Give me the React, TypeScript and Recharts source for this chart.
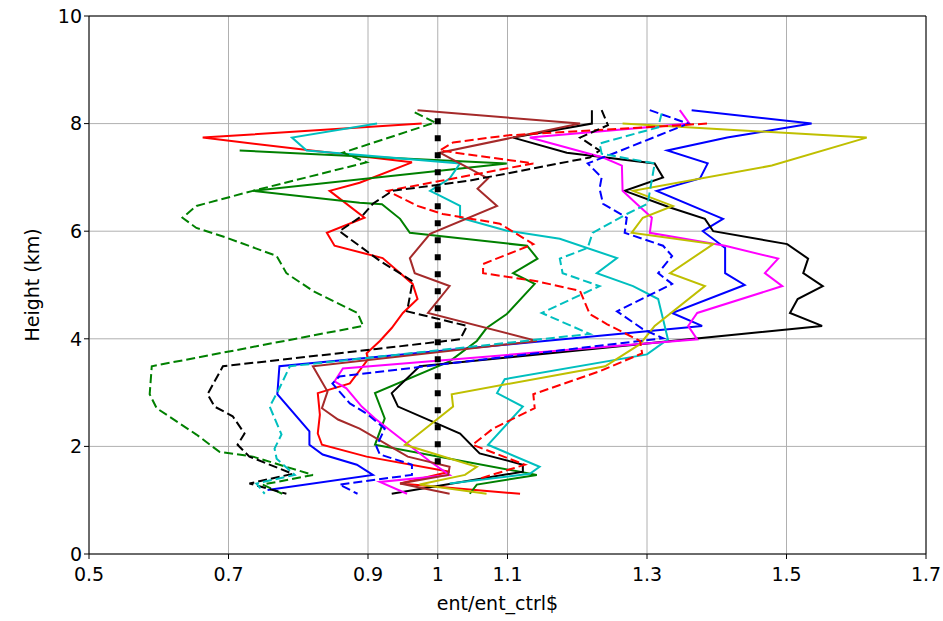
import React from "react";
import {
  ScatterChart,
  Scatter,
  XAxis,
  YAxis,
  CartesianGrid,
  ReferenceLine,
} from "recharts";

// each profile: [ent/ent_ctrl, height km], top to bottom
const blueSolid: [number, number][] = [
  [1.364, 8.25], [1.536, 8.0], [1.415, 7.74], [1.329, 7.5], [1.387, 7.26], [1.376, 6.98],
  [1.314, 6.75], [1.409, 6.23], [1.38, 6.0], [1.412, 5.69], [1.412, 5.22], [1.44, 5.0],
  [1.336, 4.48], [1.379, 4.24], [0.773, 3.49], [0.77, 2.97], [0.816, 2.28], [0.816, 2.03],
  [0.835, 1.85], [0.884, 1.66], [0.907, 1.47], [0.756, 1.19],
];
const blueDashed: [number, number][] = [
  [1.304, 8.25], [1.359, 8.0], [1.251, 7.44], [1.215, 7.26], [1.235, 7.0], [1.232, 6.79],
  [1.237, 6.51], [1.271, 6.25], [1.268, 5.97], [1.323, 5.73], [1.336, 5.54], [1.316, 5.22],
  [1.336, 5.02], [1.257, 4.51], [1.294, 4.18], [1.323, 4.01], [0.859, 3.3], [0.849, 3.17],
  [0.874, 2.8], [0.898, 2.61], [0.924, 2.33], [0.912, 2.0], [0.917, 1.85], [0.963, 1.66],
  [0.963, 1.47], [0.859, 1.29], [0.885, 1.12],
];
const redSolid: [number, number][] = [
  [0.977, 8.0], [0.663, 7.74], [0.963, 7.28], [0.888, 6.9], [0.845, 6.75], [0.895, 6.25],
  [0.841, 5.97], [0.852, 5.73], [0.921, 5.5], [0.964, 5.02], [0.971, 4.74], [0.95, 4.48],
  [0.934, 4.2], [0.917, 3.96], [0.898, 3.73], [0.9, 3.62], [0.874, 3.17], [0.828, 2.99],
  [0.831, 2.59], [0.828, 2.24], [0.834, 2.03], [0.898, 1.81], [1.017, 1.53], [0.946, 1.31],
  [1.118, 1.12],
];
const redDashed: [number, number][] = [
  [1.386, 8.0], [1.099, 7.78], [1.022, 7.65], [1.003, 7.5], [1.137, 7.26], [0.928, 6.75],
  [0.971, 6.47], [1.007, 6.32], [1.089, 6.14], [1.137, 5.76], [1.065, 5.39], [1.065, 5.22],
  [1.142, 5.07], [1.204, 4.89], [1.218, 4.46], [1.243, 4.27], [1.29, 3.96], [1.293, 3.73],
  [1.233, 3.4], [1.137, 2.97], [1.139, 2.71], [1.079, 2.33], [1.05, 2.03], [1.125, 1.66],
  [1.06, 1.4],
];
const greenSolid: [number, number][] = [
  [0.716, 7.5], [1.099, 7.26], [0.735, 6.75], [0.888, 6.53], [0.92, 6.5], [0.946, 6.23],
  [0.96, 5.97], [1.128, 5.73], [1.143, 5.49], [1.108, 5.22], [1.139, 5.02], [1.099, 4.46],
  [1.07, 4.2], [1.056, 3.96], [1.017, 3.58], [0.91, 2.99], [0.924, 2.52], [0.91, 2.03],
  [1.142, 1.47], [1.056, 1.29], [1.046, 1.12],
];
const greenDashed: [number, number][] = [
  [0.967, 8.21], [0.996, 8.02], [0.864, 7.46], [0.898, 7.28], [0.735, 6.75], [0.654, 6.47],
  [0.634, 6.25], [0.654, 6.06], [0.697, 5.88], [0.769, 5.54], [0.783, 5.22], [0.821, 4.89],
  [0.885, 4.48], [0.893, 4.24], [0.59, 3.49], [0.587, 2.97], [0.597, 2.71], [0.654, 2.22],
  [0.687, 1.9], [0.735, 1.81], [0.821, 1.47], [0.749, 1.29], [0.777, 1.12],
];
const blackSolid: [number, number][] = [
  [1.221, 8.25], [1.221, 8.0], [1.108, 7.74], [1.185, 7.46], [1.311, 7.26], [1.323, 7.0],
  [1.268, 6.75], [1.333, 6.44], [1.383, 6.23], [1.395, 6.0], [1.501, 5.76], [1.531, 5.49],
  [1.524, 5.22], [1.552, 4.98], [1.516, 4.74], [1.505, 4.48], [1.551, 4.24], [0.974, 3.49],
  [0.934, 2.99], [0.943, 2.74], [1.032, 2.24], [1.06, 1.87], [1.122, 1.66], [1.122, 1.53],
  [0.934, 1.12],
];
const blackDashed: [number, number][] = [
  [1.235, 8.25], [1.244, 7.97], [1.204, 7.74], [1.232, 7.5], [1.218, 7.37], [1.046, 6.94],
  [0.935, 6.75], [0.907, 6.51], [0.892, 6.29], [0.859, 6.0], [0.917, 5.45], [0.964, 5.07],
  [0.956, 4.51], [1.042, 4.24], [1.032, 3.99], [0.912, 3.81], [0.692, 3.49], [0.67, 2.97],
  [0.68, 2.74], [0.706, 2.56], [0.723, 2.24], [0.713, 2.03], [0.73, 1.81], [0.792, 1.49],
  [0.73, 1.31], [0.783, 1.12],
];
const cyanSolid: [number, number][] = [
  [0.913, 8.0], [0.791, 7.74], [0.812, 7.5], [1.032, 7.26], [1.017, 6.98], [0.989, 6.75],
  [1.003, 6.66], [1.032, 6.47], [1.032, 6.25], [1.099, 6.01], [1.175, 5.86], [1.257, 5.5],
  [1.228, 5.22], [1.28, 4.98], [1.316, 4.74], [1.33, 3.99], [1.3, 3.71], [1.096, 3.25],
  [1.085, 2.99], [1.122, 2.74], [1.072, 2.03], [1.146, 1.62], [1.132, 1.49], [1.017, 1.31],
];
const cyanDashed: [number, number][] = [
  [1.321, 8.19], [1.316, 7.93], [1.232, 7.63], [1.235, 7.44], [1.311, 7.26], [1.301, 6.51],
  [1.271, 6.32], [1.222, 5.97], [1.215, 5.69], [1.175, 5.49], [1.179, 5.22], [1.232, 4.98],
  [1.149, 4.48], [1.218, 4.09], [0.788, 3.49], [0.773, 3.08], [0.759, 2.74], [0.776, 2.22],
  [0.766, 1.96], [0.769, 1.77], [0.795, 1.47], [0.74, 1.31], [0.752, 1.12],
];
const magentaSolid: [number, number][] = [
  [1.347, 8.25], [1.361, 8.0], [1.132, 7.74], [1.237, 7.37], [1.264, 7.22], [1.265, 6.75],
  [1.285, 6.51], [1.307, 6.25], [1.304, 5.97], [1.412, 5.73], [1.488, 5.49], [1.469, 5.22],
  [1.494, 4.98], [1.372, 4.48], [1.359, 4.24], [1.372, 3.99], [0.864, 3.45], [0.852, 3.21],
  [0.869, 3.08], [0.891, 2.74], [0.91, 2.52], [0.989, 1.72], [1.017, 1.47], [0.917, 1.34],
  [0.956, 1.12],
];
const yellowSolid: [number, number][] = [
  [1.265, 8.0], [1.615, 7.74], [1.479, 7.22], [1.28, 6.75], [1.337, 6.47], [1.294, 6.25],
  [1.278, 5.97], [1.395, 5.76], [1.333, 5.22], [1.383, 4.98], [1.311, 4.24], [1.29, 3.9],
  [1.24, 3.49], [1.02, 2.97], [1.022, 2.74], [0.953, 2.03], [1.056, 1.62], [1.039, 1.47],
  [0.974, 1.29], [1.07, 1.12],
];
const brownSolid: [number, number][] = [
  [0.971, 8.25], [1.204, 8.0], [1.003, 7.46], [1.072, 6.98], [1.057, 6.79], [1.085, 6.47],
  [0.989, 5.95], [0.96, 5.5], [0.967, 5.22], [1.017, 4.98], [0.986, 4.48], [1.142, 3.96],
  [0.821, 3.49], [0.842, 3.02], [0.834, 2.71], [0.857, 2.5], [0.888, 2.33], [0.957, 1.81],
  [1.017, 1.62], [1.015, 1.47], [0.946, 1.31], [1.017, 1.12],
];
const ctrlLine: [number, number][] = [
  [1.0, 8.1], [1.0, 1.5],
];

const xTicks = [0.5, 0.7, 0.9, 1, 1.1, 1.3, 1.5, 1.7];
const yTicks = [0, 2, 4, 6, 8, 10];

const DASH = "9 4";

const series = [
  { pts: blueSolid, color: "#0000ff", dash: undefined },
  { pts: redSolid, color: "#ff0000", dash: undefined },
  { pts: greenSolid, color: "#008000", dash: undefined },
  { pts: blackSolid, color: "#000000", dash: undefined },
  { pts: cyanSolid, color: "#00bfbf", dash: undefined },
  { pts: magentaSolid, color: "#ff00ff", dash: undefined },
  { pts: yellowSolid, color: "#bfbf00", dash: undefined },
  { pts: brownSolid, color: "#a52a2a", dash: undefined },
  { pts: blueDashed, color: "#0000ff", dash: DASH },
  { pts: redDashed, color: "#ff0000", dash: DASH },
  { pts: greenDashed, color: "#008000", dash: DASH },
  { pts: blackDashed, color: "#000000", dash: DASH },
  { pts: cyanDashed, color: "#00bfbf", dash: DASH },
];

const toRows = (pts: [number, number][]) => pts.map(([x, h]) => ({ x, h }));

const font = "DejaVu Sans, sans-serif";

export default function App() {
  return (
    <div style={{ position: "absolute", left: 0, top: 0, background: "#fff" }}>
      <ScatterChart
        width={943}
        height={621}
        margin={{ top: 16, right: 17, bottom: 7, left: 29 }}
      >
        <CartesianGrid stroke="#b0b0b0" strokeWidth={1} />
        <XAxis
          type="number"
          dataKey="x"
          domain={[0.5, 1.7]}
          ticks={xTicks}
          tickFormatter={(v: number) => String(v)}
          height={60}
          stroke="#000"
          tickSize={5}
          tickMargin={9}
          tick={{ fill: "#000", fontSize: 19, fontFamily: font }}
          label={{
            value: "ent/ent_ctrl$",
            position: "insideBottom",
            offset: 4,
            dx: -10,
            fill: "#000",
            fontSize: 19,
            fontFamily: font,
          }}
        />
        <YAxis
          type="number"
          dataKey="h"
          domain={[0, 10]}
          ticks={yTicks}
          width={60}
          stroke="#000"
          tickSize={5}
          tick={{ fill: "#000", fontSize: 19, fontFamily: font }}
          label={{
            value: "Height (km)",
            angle: -90,
            position: "insideLeft",
            offset: 0,
            dx: 3,
            fill: "#000",
            fontSize: 19,
            fontFamily: font,
            style: { textAnchor: "middle" },
          }}
        />
        <ReferenceLine y={10} stroke="#000" strokeWidth={1} />
        <ReferenceLine x={1.7} stroke="#000" strokeWidth={1} />
        {series.map((s, i) => (
          <Scatter
            key={i}
            data={toRows(s.pts)}
            line={{ stroke: s.color, strokeWidth: 2, strokeDasharray: s.dash }}
            shape={() => <g />}
            fill={s.color}
            isAnimationActive={false}
          />
        ))}
        <Scatter
          data={toRows(ctrlLine)}
          line={{ stroke: "#000", strokeWidth: 6, strokeDasharray: "6 11" }}
          shape={() => <g />}
          isAnimationActive={false}
        />
      </ScatterChart>
    </div>
  );
}
